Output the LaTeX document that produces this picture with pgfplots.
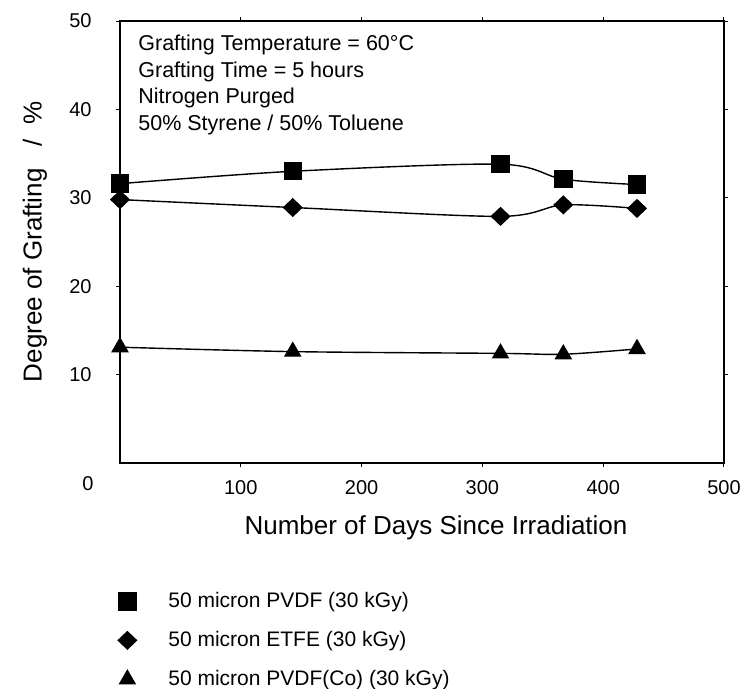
\documentclass[border=0pt]{standalone}
\usepackage{fontspec}
\setmainfont{Liberation Sans}
\usepackage{pgfplots}
\pgfplotsset{compat=1.18}
\begin{document}
\begin{tikzpicture}
\begin{axis}[
 scale only axis, width=302pt, height=221pt,
 xmin=0, xmax=500, ymin=0, ymax=50,
 xtick={100,200,300,400,500}, ytick={10,20,30,40,50},
 extra x ticks={0},
 extra x tick style={major tick length=0pt, xticklabel style={xshift=-16pt}},
 tick align=outside, major tick length=2pt,
 tick style={black, line width=0.5pt},
 axis line style={line width=0.9pt},
 /pgf/number format/assume math mode=true,
 tick label style={font=\fontsize{10}{12}\selectfont, inner sep=0pt},
 xticklabel style={yshift=-6.4pt},
 yticklabel style={xshift=-12pt},
 xlabel={Number of Days Since Irradiation},
 ylabel={Degree of Grafting\ \ \ /\ \ \%},
 label style={font=\fontsize{13}{15}\selectfont, inner sep=0pt},
 xlabel style={at={(axis description cs:0.5232,-0.147)}, anchor=center},
 ylabel style={at={(axis description cs:-0.1407,0.5)}, anchor=center},
 legend style={at={(axis description cs:-0.005,-0.268)}, anchor=north west,
   draw=none, fill=none, inner sep=0pt, column sep=0pt, row sep=0pt,
   nodes={inner sep=0pt, anchor=west}, font=\fontsize{10.5}{12}\selectfont},
 legend cell align=left,
 legend image code/.code={\path[draw=none,fill=none] (-5pt,-9.75pt) rectangle (20.5pt,9.75pt);
   \draw[#1,sharp plot] plot coordinates {(0pt,0pt)};},
 every axis plot/.append style={black, line width=0.7pt, smooth, tension=0.5},
]
\addplot[mark=square*, mark size=4.25pt, mark options={solid}] coordinates {
 (0,31.6) (143,33.0) (315,33.8) (367,32.1) (428,31.5)};
\addlegendentry{50 micron PVDF (30 kGy)}
\addplot[mark=diamond*, mark size=4.3pt, mark options={xscale=1.4}] coordinates {
 (0,29.8) (143,28.9) (315,27.9) (367,29.2) (428,28.8)};
\addlegendentry{50 micron ETFE (30 kGy)}
\addplot[mark=triangle*, mark size=4.4pt] coordinates {
 (0,13.1) (143,12.6) (315,12.4) (367,12.3) (428,12.9)};
\addlegendentry{50 micron PVDF(Co) (30 kGy)}
\node[anchor=north west, align=left, inner sep=0pt, xshift=9pt, yshift=-7pt,
  font=\fontsize{10.75}{13.2}\selectfont] at (rel axis cs:0,1)
  {Grafting Temperature = 60°C\\Grafting Time = 5 hours\\Nitrogen Purged\\50\% Styrene / 50\% Toluene};
\coordinate (bl) at (rel axis cs:0,0);
\coordinate (tr) at (rel axis cs:1,1);
\end{axis}
\pgfresetboundingbox
\path ([xshift=-60pt,yshift=-113pt]bl) rectangle ([xshift=9.5pt,yshift=10.5pt]tr);
\end{tikzpicture}
\end{document}
